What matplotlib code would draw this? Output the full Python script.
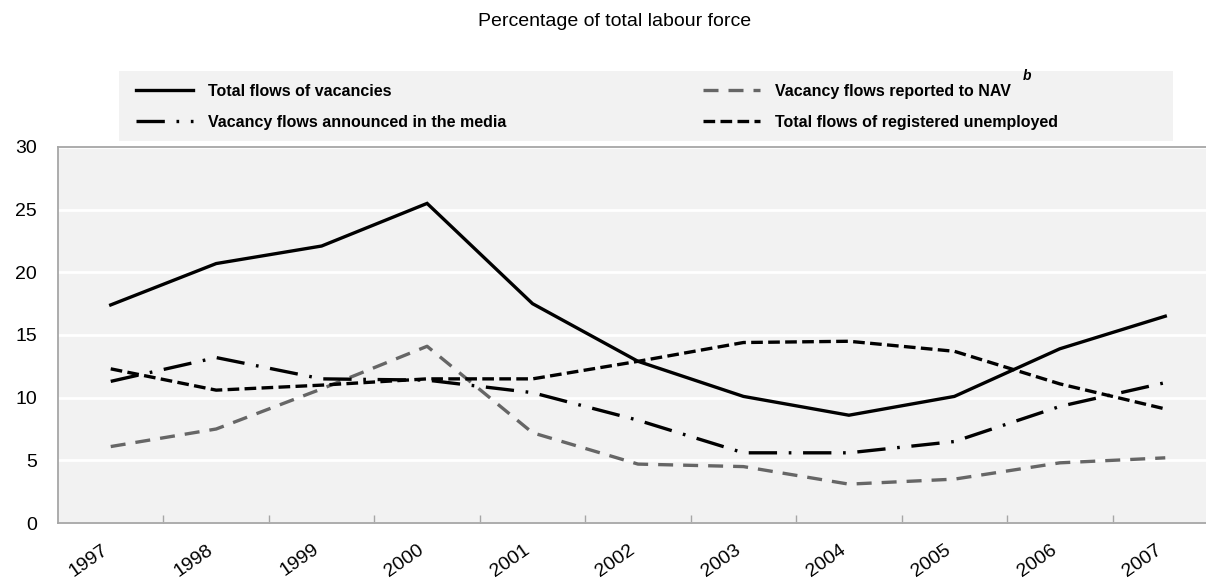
import matplotlib.pyplot as plt
from matplotlib.patches import Rectangle

plt.rcParams['font.family'] = ['Liberation Sans', 'DejaVu Sans']

years = ['1997', '1998', '1999', '2000', '2001', '2002', '2003', '2004', '2005', '2006', '2007']
total_vacancies = [17.4, 20.7, 22.1, 25.5, 17.5, 12.9, 10.1, 8.6, 10.1, 13.9, 16.5]
nav_vacancies = [6.1, 7.5, 10.7, 14.1, 7.2, 4.7, 4.5, 3.1, 3.5, 4.8, 5.2]
media_vacancies = [11.3, 13.2, 11.5, 11.4, 10.4, 8.2, 5.6, 5.6, 6.5, 9.3, 11.2]
unemployed = [12.3, 10.6, 11.0, 11.5, 11.5, 12.9, 14.4, 14.5, 13.7, 11.1, 9.1]

W, H = 1206, 581
fig = plt.figure(figsize=(W / 100, H / 100), dpi=100)
# plot area runs a little past the right edge of the figure
ax = fig.add_axes([58 / W, 1 - 523 / H, (1218 - 58) / W, (523 - 147) / H])
ax.set_facecolor('#f2f2f2')

x = list(range(len(years)))
lw = 2.4
l_total, = ax.plot(x, total_vacancies, color='black', lw=lw, solid_joinstyle='miter')
l_nav, = ax.plot(x, nav_vacancies, color='#666666', lw=lw, dashes=(4.5, 3))
l_media, = ax.plot(x, media_vacancies, color='black', lw=lw, dashes=(8.5, 3.5, 0.8, 3.5))
l_unemp, = ax.plot(x, unemployed, color='black', lw=lw, dashes=(3.5, 1.6))

ax.set_xlim(-0.5, 10.5)
ax.set_ylim(0, 30)
ax.set_yticks(range(0, 31, 5))
ax.grid(axis='y', color='white', lw=2)
ax.set_axisbelow(True)
for s in ax.spines.values():
    s.set_color('#a6a6a6')
    s.set_linewidth(1.3)

ax.set_xticks(x)
ax.set_xticklabels(years, rotation=35, ha='right', va='top', fontsize=14)
ax.set_xticks([i + 0.5 for i in range(len(years) - 1)], minor=True)
ax.tick_params(axis='x', which='major', length=0, pad=13)
ax.tick_params(axis='x', which='minor', direction='in', length=6, color='#a6a6a6', width=1)
ax.tick_params(axis='y', length=0, labelsize=14, pad=15)

fig.text(615 / W, 1 - 22 / H, 'Percentage of total labour force', ha='center', va='center', fontsize=14)

# legend panel
fig.patches.append(Rectangle((119 / W, 1 - 141 / H), (1173 - 119) / W, 70 / H,
                             transform=fig.transFigure, facecolor='#f2f2f2', edgecolor='none', zorder=0))
leg_kw = dict(frameon=False, loc='upper left', borderpad=0, handlelength=3.6, handletextpad=0.9,
              labelspacing=1.0, prop={'weight': 'bold', 'size': 11.5})
fig.legend([l_total, l_media], ['Total flows of vacancies', 'Vacancy flows announced in the media'],
           bbox_to_anchor=(128 / W, 1 - 76 / H), **leg_kw)
leg2 = fig.legend([l_nav, l_unemp], ['Vacancy flows reported to NAV', 'Total flows of registered unemployed'],
                  bbox_to_anchor=(695 / W, 1 - 76 / H), **leg_kw)

# footnote marker just after the NAV entry
fig.canvas.draw()
bb = leg2.get_texts()[0].get_window_extent()
fig.text((bb.x1 + 12) / W, 1 - 76 / H, 'b', fontsize=10, fontweight='bold', style='italic',
         ha='left', va='center')

fig.savefig('out.png', dpi=100)
